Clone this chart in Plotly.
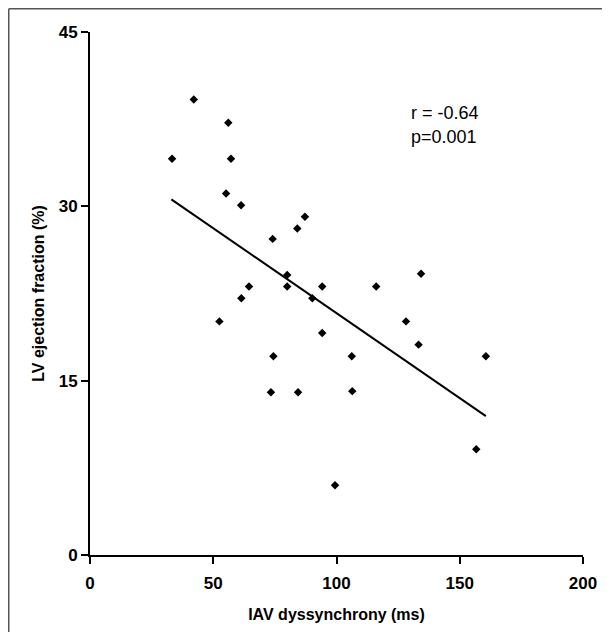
import plotly.graph_objects as go

# Data
iav_ms = [33.3, 42.1, 56.1, 57.2, 55.2, 61.3, 87.2, 84.1, 74.1, 80.0,
          64.5, 80.0, 94.2, 61.4, 90.2, 52.5, 94.2, 74.4, 73.4, 84.4,
          134.3, 116.1, 128.2, 133.3, 106.2, 160.6, 106.4, 156.7, 99.4]
lvef_pct = [34.1, 39.2, 37.2, 34.1, 31.1, 30.1, 29.1, 28.1, 27.2, 24.1,
            23.1, 23.1, 23.1, 22.1, 22.1, 20.1, 19.1, 17.1, 14.0, 14.0,
            24.2, 23.1, 20.1, 18.1, 17.1, 17.1, 14.1, 9.1, 6.0]

fit_x = [33.0, 160.6]
fit_y = [30.6, 11.95]

x_ticks = [0, 50, 100, 150, 200]
y_ticks = [0, 15, 30, 45]

stats_lines = ["r = -0.64", "p=0.001"]

FONT = "Liberation Sans, Arial, sans-serif"

fig = go.Figure()
fig.add_trace(go.Scatter(
    x=fit_x, y=fit_y, mode="lines",
    line=dict(color="black", width=2), showlegend=False, hoverinfo="skip"))
fig.add_trace(go.Scatter(
    x=iav_ms, y=lvef_pct, mode="markers",
    marker=dict(symbol="diamond", size=6.5, color="black"),
    showlegend=False))

axis_common = dict(
    showgrid=False, zeroline=False, showline=True, linecolor="black",
    linewidth=2, ticks="outside", ticklen=7, tickwidth=2, tickcolor="black",
    tickfont=dict(family=FONT, size=17, color="black", weight="bold"),
    tickmode="array", automargin=False,
)

fig.update_xaxes(range=[0, 200], tickvals=x_ticks,
                 ticktext=[f"<b>{v}</b>" for v in x_ticks],
                 ticklabelstandoff=5,
                 title=dict(text="IAV dyssynchrony (ms)",
                            font=dict(family=FONT, size=16, color="black",
                                      weight="bold"),
                            standoff=16),
                 **axis_common)
fig.update_yaxes(range=[0, 45], tickvals=y_ticks,
                 ticktext=[f"<b>{v}</b>" for v in y_ticks],
                 title=dict(text="LV ejection fraction (%)",
                            font=dict(family=FONT, size=16, color="black",
                                      weight="bold"),
                            standoff=10),
                 **axis_common)

for txt, yv in zip(stats_lines, [38.0, 36.0]):
    fig.add_annotation(x=129.4, y=yv, text=txt, showarrow=False,
                       xanchor="left", yanchor="middle",
                       font=dict(family=FONT, size=18, color="black"))

# outer frame (left and top edges visible)
fig.add_shape(type="line", xref="paper", yref="paper",
              x0=-0.1648, x1=-0.1648, y0=1.0445, y1=-0.3,
              line=dict(color="#555555", width=1.5))
fig.add_shape(type="line", xref="paper", yref="paper",
              x0=-0.1648, x1=1.2, y0=1.0445, y1=1.0445,
              line=dict(color="#555555", width=1.5))

# page body adds an 8px margin; size the figure to fill the 610x640 window
fig.update_layout(
    width=594, height=624,
    margin=dict(l=82, r=19, t=24, b=77),
    plot_bgcolor="white", paper_bgcolor="white",
)

fig.write_html("out.html")
